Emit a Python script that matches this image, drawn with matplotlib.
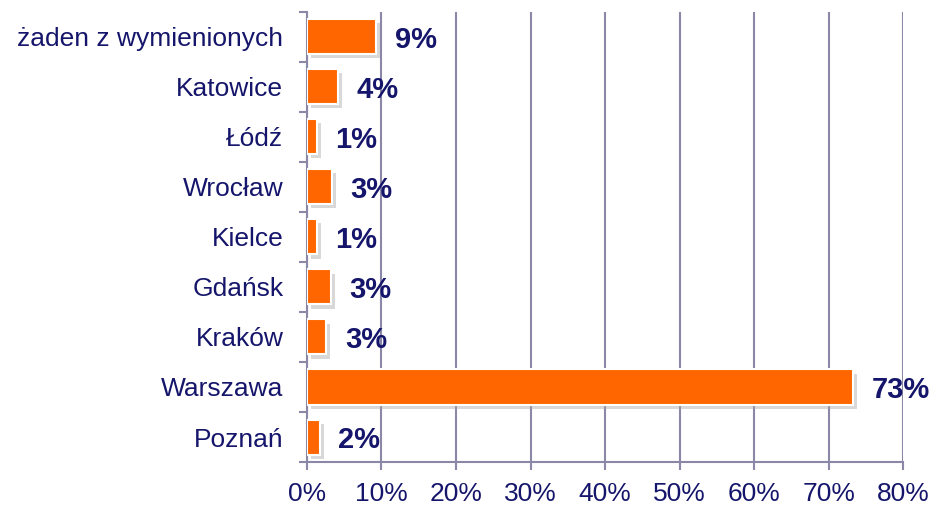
import numpy as np
import matplotlib.pyplot as plt
import matplotlib.patheffects as pe

categories = ["Poznań", "Warszawa", "Kraków", "Gdańsk", "Kielce",
              "Wrocław", "Łódź", "Katowice", "żaden z wymienionych"]
values = [1.7, 73.3, 2.6, 3.2, 1.3, 3.3, 1.3, 4.2, 9.3]
labels = ["2%", "73%", "3%", "3%", "1%", "3%", "1%", "4%", "9%"]
xticks = [0, 10, 20, 30, 40, 50, 60, 70, 80]

navy = "#15156b"
axis_col = "#8a88a6"
orange = "#ff6600"

plt.rcParams['font.family'] = ['Liberation Sans', 'DejaVu Sans']

fig, ax = plt.subplots(figsize=(9.33, 5.05), dpi=100)
fig.subplots_adjust(left=0.329, right=0.968, top=0.977, bottom=0.085)

y = np.arange(len(categories))
bars = ax.barh(y, values, height=0.7, color=orange, edgecolor="white", linewidth=1.5, zorder=3)
for b in bars:
    b.set_path_effects([pe.SimplePatchShadow(offset=(3, -3), shadow_rgbFace="#aaaaaa", alpha=0.45), pe.Normal()])

# etykiety z wartościami, lekko poniżej środka słupka
for yi, v, lab in zip(y, values, labels):
    ax.text(v + 2.5, yi - 0.06, lab, va="center", ha="left", fontsize=21, fontweight="bold", color=navy, zorder=4)

ax.set_xlim(0, 80)
ax.set_ylim(-0.5, len(categories) - 0.5)
ax.set_xticks(xticks)
ax.set_xticklabels([f"{t}%" for t in xticks])
ax.set_yticks(y)
ax.set_yticklabels(categories)
ax.set_yticks(np.arange(-0.5, len(categories)), minor=True)

ax.tick_params(axis="y", which="major", length=0, pad=17, labelsize=19, labelcolor=navy)
ax.tick_params(axis="y", which="minor", length=6, color=axis_col, width=1.5)
ax.tick_params(axis="x", length=6, color=axis_col, width=1.5, labelsize=19, labelcolor=navy, pad=8)

ax.grid(axis="x", color=axis_col, linewidth=1.5, zorder=0)
for s in ["top", "right"]:
    ax.spines[s].set_visible(False)
for s in ["left", "bottom"]:
    ax.spines[s].set_color(axis_col)
    ax.spines[s].set_linewidth(1.5)

plt.savefig("out.png")
